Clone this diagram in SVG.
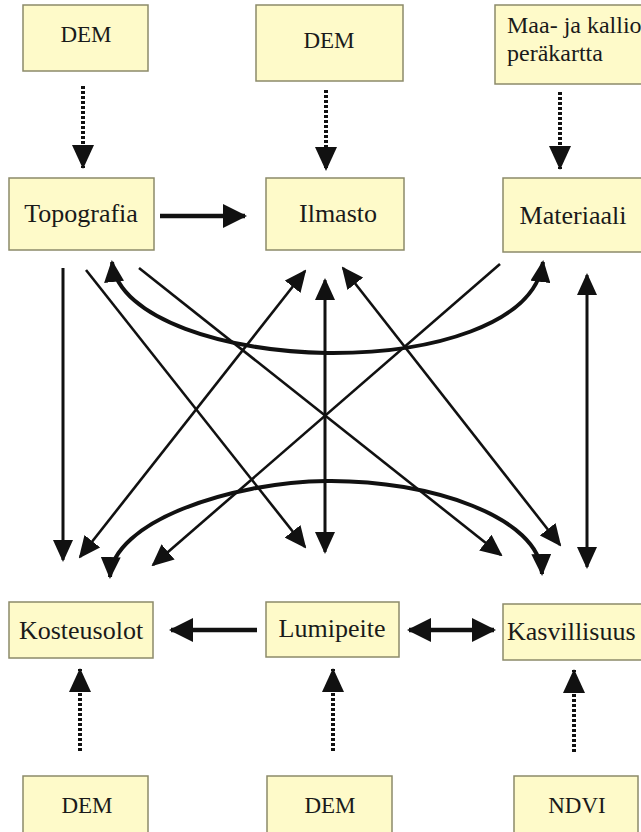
<svg xmlns="http://www.w3.org/2000/svg" width="641" height="832" viewBox="0 0 641 832">
<style>
.box{fill:#fefac9;stroke:#8c8a6a;stroke-width:1.5}
text{font-family:"Liberation Serif",Tinos,"Times New Roman","DejaVu Serif",serif;fill:#1a1a1a}
.big{font-size:26px}
.sm{font-size:23px}
.ln{fill:none;stroke:#111;stroke-width:2.6}
.th{fill:none;stroke:#111;stroke-width:4.5}
.cv{fill:none;stroke:#111;stroke-width:4}
.vt{fill:none;stroke:#111;stroke-width:3}
.dot{fill:none;stroke:#111;stroke-width:4;stroke-dasharray:3 2}
</style>
<defs>
<marker id="ah" viewBox="0 0 22 20" refX="20" refY="10" markerWidth="22" markerHeight="20" markerUnits="userSpaceOnUse" orient="auto-start-reverse"><path d="M0,0 L22,10 L0,20 z" fill="#111"/></marker>
<marker id="ahb" viewBox="0 0 24 24" refX="22" refY="12" markerWidth="24" markerHeight="24" markerUnits="userSpaceOnUse" orient="auto-start-reverse"><path d="M0,0 L24,12 L0,24 z" fill="#111"/></marker>
<marker id="ahd" viewBox="0 0 24 22" refX="23" refY="11" markerWidth="24" markerHeight="22" markerUnits="userSpaceOnUse" orient="auto-start-reverse"><path d="M0,0 L24,11 L0,22 z" fill="#111"/></marker>
</defs>

<g id="dem-top-left"><rect class="box" x="23" y="5" width="125" height="66"/><text class="sm" x="86" y="42" text-anchor="middle">DEM</text></g>
<g id="dem-top-mid"><rect class="box" x="256" y="5" width="147" height="76"/><text class="sm" x="329" y="48" text-anchor="middle">DEM</text></g>
<g id="maa-kallio"><rect class="box" x="495" y="5" width="150" height="79"/><text font-size="24" x="507" y="33">Maa- ja kallio</text><text font-size="24" x="507" y="61">peräkartta</text></g>

<g id="topografia"><rect class="box" x="9" y="178" width="145" height="72"/><text class="big" x="81" y="222" text-anchor="middle">Topografia</text></g>
<g id="ilmasto"><rect class="box" x="266" y="178" width="138" height="72"/><text class="big" x="338" y="222" text-anchor="middle">Ilmasto</text></g>
<g id="materiaali"><rect class="box" x="503" y="178" width="142" height="74"/><text class="big" x="573" y="224" text-anchor="middle">Materiaali</text></g>

<g id="kosteusolot"><rect class="box" x="9" y="602" width="144" height="56"/><text class="big" x="81" y="639" text-anchor="middle">Kosteusolot</text></g>
<g id="lumipeite"><rect class="box" x="266" y="602" width="133" height="55"/><text class="big" x="332" y="637" text-anchor="middle">Lumipeite</text></g>
<g id="kasvillisuus"><rect class="box" x="503" y="604" width="142" height="56"/><text class="big" x="507" y="640">Kasvillisuus</text></g>

<g id="dem-bottom-left"><rect class="box" x="23" y="776" width="125" height="70"/><text class="sm" x="87" y="813" text-anchor="middle">DEM</text></g>
<g id="dem-bottom-mid"><rect class="box" x="267" y="776" width="125" height="70"/><text class="sm" x="330" y="813" text-anchor="middle">DEM</text></g>
<g id="ndvi"><rect class="box" x="514" y="776" width="124" height="70"/><text class="sm" x="577" y="813" text-anchor="middle">NDVI</text></g>

<g id="connectors">
<line class="dot" x1="83" y1="86" x2="83" y2="168" marker-end="url(#ahd)"/>
<line class="dot" x1="326" y1="90" x2="326" y2="170" marker-end="url(#ahd)"/>
<line class="dot" x1="560" y1="92" x2="560" y2="169" marker-end="url(#ahd)"/>
<line class="dot" x1="80" y1="751" x2="80" y2="669" marker-end="url(#ahd)"/>
<line class="dot" x1="333" y1="751" x2="333" y2="669" marker-end="url(#ahd)"/>
<line class="dot" x1="574" y1="752" x2="574" y2="670" marker-end="url(#ahd)"/>

<line class="th" x1="160" y1="216" x2="245" y2="216" marker-end="url(#ahb)"/>
<line class="th" x1="257" y1="630" x2="171" y2="630" marker-end="url(#ahb)"/>
<line class="th" x1="409" y1="630" x2="494" y2="630" marker-start="url(#ahb)" marker-end="url(#ahb)"/>

<line class="vt" x1="63" y1="268" x2="63" y2="560" marker-end="url(#ah)"/>
<line class="ln" x1="86" y1="270" x2="305" y2="547" marker-end="url(#ah)"/>
<line class="ln" x1="139" y1="268" x2="501" y2="555" marker-end="url(#ah)"/>
<line class="ln" x1="80" y1="557" x2="305" y2="271" marker-start="url(#ah)" marker-end="url(#ah)"/>
<line class="vt" x1="325" y1="280" x2="325" y2="552" marker-start="url(#ah)" marker-end="url(#ah)"/>
<line class="ln" x1="343" y1="268" x2="560" y2="545" marker-start="url(#ah)" marker-end="url(#ah)"/>
<line class="ln" x1="500" y1="264" x2="153" y2="565" marker-end="url(#ah)"/>
<line class="vt" x1="587" y1="275" x2="587" y2="567" marker-start="url(#ah)" marker-end="url(#ah)"/>

<path class="cv" d="M112,262 C118,320 230,352 327,353 C430,354 535,325 543,262" marker-start="url(#ah)" marker-end="url(#ah)"/>
<path class="cv" d="M110,577 C112,522 230,482 327,481 C430,480 540,517 542,574" marker-start="url(#ah)" marker-end="url(#ah)"/>
</g>
</svg>
